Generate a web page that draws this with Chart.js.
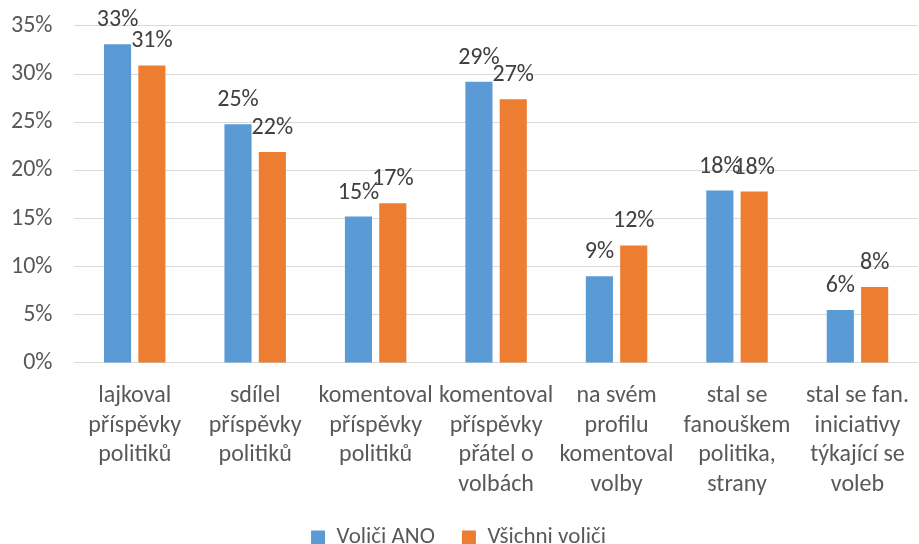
<!DOCTYPE html>
<html>
<head>
<meta charset="utf-8">
<script src="https://cdn.jsdelivr.net/npm/chart.js@4/dist/chart.umd.min.js"></script>
<style>
  body { margin: 0; background: #fff; }
  #wrap { width: 919px; height: 544px; }
</style>
</head>
<body>
<div id="wrap"><canvas id="myChart" width="919" height="544"></canvas></div>
<script>
// kategorie (víceřádkové popisky)
const categories = [
  ['lajkoval', 'příspěvky', 'politiků'],
  ['sdílel', 'příspěvky', 'politiků'],
  ['komentoval', 'příspěvky', 'politiků'],
  ['komentoval', 'příspěvky', 'přátel o', 'volbách'],
  ['na svém', 'profilu', 'komentoval', 'volby'],
  ['stal se', 'fanouškem', 'politika,', 'strany'],
  ['stal se fan.', 'iniciativy', 'týkající se', 'voleb']
]
const seriesNames = ['Voliči ANO', 'Všichni voliči']
const voliciANO = [33.1, 24.8, 15.2, 29.2, 9.0, 17.9, 5.5]
const vsichniVolici = [30.9, 21.9, 16.6, 27.4, 12.2, 17.8, 7.9]
const yTicks = [0, 5, 10, 15, 20, 25, 30, 35]

const FONT = "Carlito, Calibri, 'Open Sans', sans-serif"

// popisky hodnot nad sloupci
const valueLabels = {
  id: 'valueLabels',
  afterDatasetsDraw(chart) {
    const ctx = chart.ctx
    ctx.save()
    ctx.font = '24px ' + FONT
    ctx.fillStyle = '#404040'
    ctx.textAlign = 'center'
    ctx.textBaseline = 'alphabetic'
    chart.data.datasets.forEach((ds, i) => {
      chart.getDatasetMeta(i).data.forEach((bar, j) => {
        ctx.fillText(Math.round(ds.data[j]) + '%', bar.x, bar.y - 18)
      })
    })
    ctx.restore()
  }
}

const ctx = document.getElementById('myChart')
const myChart = new Chart(ctx, {
  type: 'bar',
  data: {
    labels: categories,
    datasets: [
      {
        label: seriesNames[0],
        data: voliciANO,
        backgroundColor: '#5B9BD5',
        categoryPercentage: 0.57,
        barPercentage: 0.79
      },
      {
        label: seriesNames[1],
        data: vsichniVolici,
        backgroundColor: '#ED7D31',
        categoryPercentage: 0.57,
        barPercentage: 0.79
      }
    ]
  },
  options: {
    responsive: false,
    animation: false,
    layout: { padding: { top: 3, right: -9, left: -11, bottom: -15 } },
    scales: {
      x: {
        grid: { display: false },
        border: { color: '#d9d9d9', width: 1 },
        afterFit: scale => { scale.height -= 11 },
        ticks: {
          color: '#595959',
          font: { family: FONT, size: 24, lineHeight: 1.24 },
          maxRotation: 0,
          autoSkip: false,
          padding: 10
        }
      },
      y: {
        min: 0,
        max: 35,
        afterBuildTicks: axis => { axis.ticks = yTicks.map(v => ({ value: v })) },
        grid: { color: '#d9d9d9', lineWidth: 1, drawTicks: false },
        border: { display: false },
        ticks: {
          color: '#595959',
          font: { family: FONT, size: 24, lineHeight: 0.33 },
          padding: 22,
          callback: v => v + '%'
        }
      }
    },
    plugins: {
      legend: {
        position: 'bottom',
        labels: {
          color: '#595959',
          font: { family: FONT, size: 23 },
          boxWidth: 14,
          boxHeight: 14,
          padding: 27
        }
      },
      tooltip: { enabled: false }
    }
  },
  plugins: [valueLabels]
})
</script>
</body>
</html>
